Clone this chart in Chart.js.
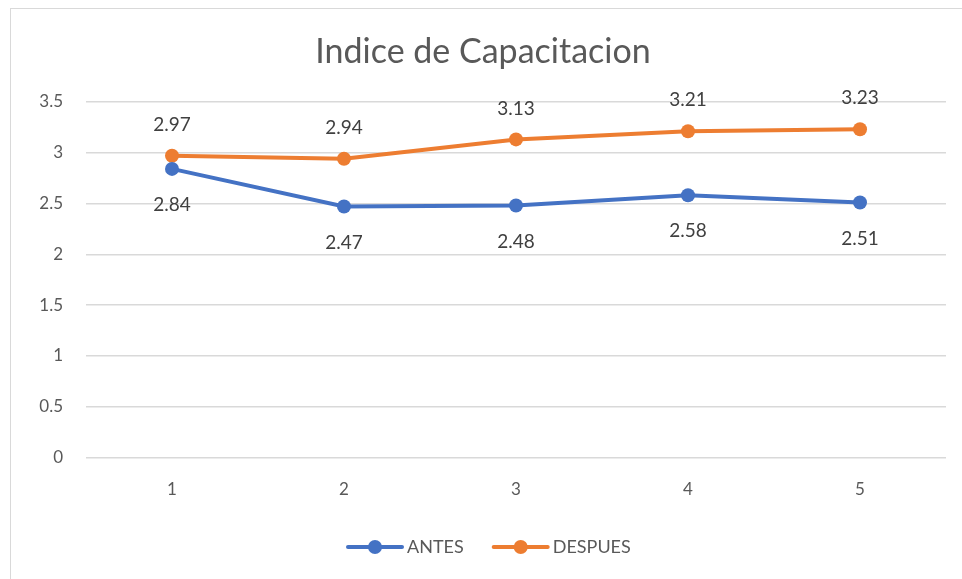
<!DOCTYPE html>
<html>
<head>
    <title>Indice de Capacitacion</title>
    <script src="https://cdn.jsdelivr.net/npm/chart.js@4.4.1/dist/chart.umd.min.js"></script>
    <style>
        html, body { margin: 0; padding: 0; background: #fff; }
        .chart-box { width: 962px; height: 579px; }
    </style>
</head>
<body>
    <div class="chart-box">
        <canvas id="indiceChart" width="962" height="579"></canvas>
    </div>

    <script>
        // Values
        const categories = ['1', '2', '3', '4', '5'];
        const antes = [2.84, 2.47, 2.48, 2.58, 2.51];
        const despues = [2.97, 2.94, 3.13, 3.21, 3.23];
        const seriesNames = ['ANTES', 'DESPUES'];
        const seriesColors = ['#4472C4', '#ED7D31'];

        const fontFamily = 'Lato, "Open Sans", sans-serif';
        const textColor = '#595959';

        // frame, data labels and legend drawn by hand
        const extrasPlugin = {
            id: 'extras',
            beforeDraw(chart) {
                const ctx = chart.ctx;
                ctx.save();
                ctx.fillStyle = '#fff';
                ctx.fillRect(0, 0, chart.width, chart.height);
                ctx.strokeStyle = '#d9d9d9';
                ctx.lineWidth = 1;
                ctx.strokeRect(10.5, 8.5, chart.width + 20, chart.height + 20);
                ctx.restore();
            },
            afterDatasetsDraw(chart) {
                const ctx = chart.ctx;
                ctx.save();
                ctx.font = '19px ' + fontFamily;
                ctx.fillStyle = '#404040';
                ctx.textAlign = 'center';
                ctx.textBaseline = 'middle';
                chart.data.datasets.forEach((ds, i) => {
                    const meta = chart.getDatasetMeta(i);
                    meta.data.forEach((pt, j) => {
                        const off = i === 0 ? 36 : -31;
                        ctx.fillText(ds.data[j].toFixed(2), pt.x, pt.y + off);
                    });
                });

                // legend
                ctx.font = '18px ' + fontFamily;
                ctx.textAlign = 'left';
                const y = 547;
                let x = 348;
                chart.data.datasets.forEach((ds, i) => {
                    ctx.strokeStyle = ds.borderColor;
                    ctx.lineWidth = 4;
                    ctx.lineCap = 'round';
                    ctx.beginPath();
                    ctx.moveTo(x, y);
                    ctx.lineTo(x + 54, y);
                    ctx.stroke();
                    ctx.fillStyle = ds.borderColor;
                    ctx.beginPath();
                    ctx.arc(x + 27, y, 7, 0, Math.PI * 2);
                    ctx.fill();
                    ctx.fillStyle = textColor;
                    ctx.fillText(ds.label, x + 59, y);
                    x += 59 + ctx.measureText(ds.label).width + 30;
                });
                ctx.restore();
            }
        };

        new Chart(document.getElementById('indiceChart'), {
            type: 'line',
            data: {
                labels: categories,
                datasets: [
                    {
                        label: seriesNames[0],
                        data: antes,
                        borderColor: seriesColors[0],
                        backgroundColor: seriesColors[0],
                        borderWidth: 4,
                        pointRadius: 7,
                        pointBorderWidth: 0,
                        pointHoverRadius: 7,
                        tension: 0
                    },
                    {
                        label: seriesNames[1],
                        data: despues,
                        borderColor: seriesColors[1],
                        backgroundColor: seriesColors[1],
                        borderWidth: 4,
                        pointRadius: 7,
                        pointBorderWidth: 0,
                        pointHoverRadius: 7,
                        tension: 0
                    }
                ]
            },
            options: {
                responsive: false,
                animation: false,
                layout: {
                    padding: { left: 20, right: 16, top: 10, bottom: 65 }
                },
                scales: {
                    x: {
                        offset: true,
                        grid: { display: false },
                        border: { display: false },
                        ticks: {
                            color: textColor,
                            font: { family: fontFamily, size: 17 },
                            padding: 14
                        }
                    },
                    y: {
                        min: 0,
                        max: 3.5,
                        afterFit(scale) { scale.width = 66; },
                        ticks: {
                            stepSize: 0.5,
                            color: textColor,
                            font: { family: fontFamily, size: 17 },
                            padding: 23,
                            callback: v => String(v)
                        },
                        grid: {
                            color: '#d9d9d9',
                            lineWidth: 1.5,
                            drawTicks: false
                        },
                        border: { display: false }
                    }
                },
                plugins: {
                    legend: { display: false },
                    tooltip: { enabled: false },
                    title: {
                        display: true,
                        text: 'Indice de Capacitacion',
                        color: textColor,
                        font: { family: fontFamily, size: 34, weight: 'normal' },
                        padding: { top: 22, bottom: 29 }
                    }
                }
            },
            plugins: [extrasPlugin]
        });
    </script>
</body>
</html>
